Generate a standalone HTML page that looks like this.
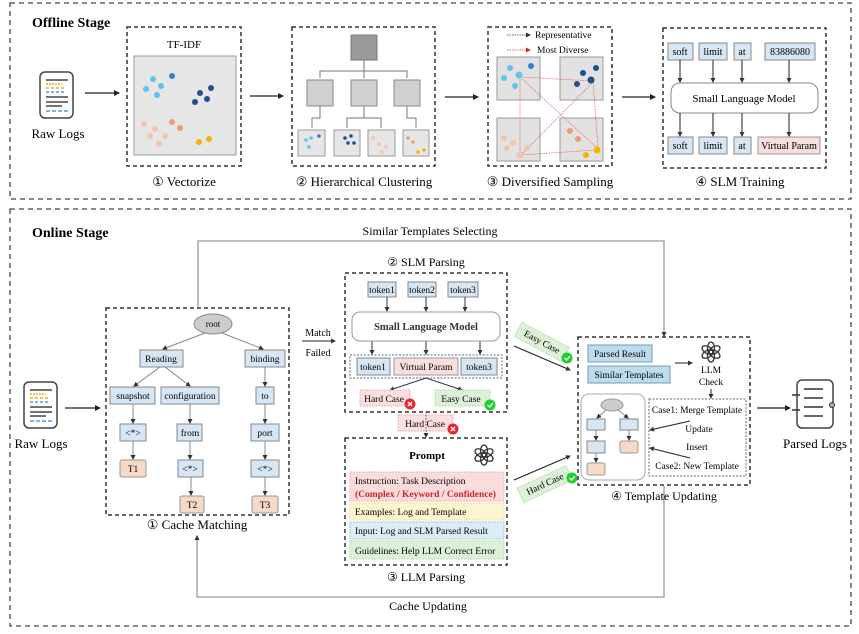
<!DOCTYPE html>
<html><head><meta charset="utf-8"><style>
html,body{margin:0;padding:0;background:#fff;}
svg{display:block;font-family:"Liberation Serif",serif;}
</style></head><body>
<svg width="859" height="634" viewBox="0 0 859 634" xmlns="http://www.w3.org/2000/svg">
<defs>
<marker id="ah" markerWidth="6" markerHeight="6" refX="5" refY="3" orient="auto" markerUnits="userSpaceOnUse"><path d="M0,0 L6,3 L0,6 z" fill="#222"/></marker>
<marker id="as" markerWidth="5" markerHeight="5" refX="4" refY="2.5" orient="auto" markerUnits="userSpaceOnUse"><path d="M0,0 L5,2.5 L0,5 z" fill="#333"/></marker>
<marker id="ar" markerWidth="5" markerHeight="5" refX="4" refY="2.5" orient="auto" markerUnits="userSpaceOnUse"><path d="M0,0 L5,2.5 L0,5 z" fill="#d22"/></marker>
<g id="doc">
<rect x="0" y="0" width="33" height="46" rx="5" fill="#fff" stroke="#444" stroke-width="1.5"/>
<line x1="6" y1="8" x2="28" y2="8" stroke="#444" stroke-width="1.5"/>
<line x1="6" y1="12" x2="22" y2="12" stroke="#f5a623" stroke-width="1.5" stroke-dasharray="2,1"/>
<line x1="6" y1="16" x2="26" y2="16" stroke="#f5a623" stroke-width="1.5" stroke-dasharray="3,2"/>
<line x1="6" y1="20" x2="24" y2="20" stroke="#4a9fe0" stroke-width="1.5" stroke-dasharray="3,2"/>
<line x1="6" y1="25" x2="28" y2="25" stroke="#444" stroke-width="1.5"/>
<line x1="6" y1="30" x2="28" y2="30" stroke="#444" stroke-width="1.5"/>
<line x1="6" y1="34" x2="22" y2="34" stroke="#444" stroke-width="1.5"/>
<line x1="6" y1="39" x2="28" y2="39" stroke="#4a9fe0" stroke-width="1.5" stroke-dasharray="4,2"/>
</g>
<g id="gpt" fill="none" stroke="#333" stroke-width="1.3">
<ellipse cx="0" cy="-4" rx="3.5" ry="6"/>
<ellipse cx="0" cy="-4" rx="3.5" ry="6" transform="rotate(60 0 0)"/>
<ellipse cx="0" cy="-4" rx="3.5" ry="6" transform="rotate(120 0 0)"/>
<ellipse cx="0" cy="-4" rx="3.5" ry="6" transform="rotate(180 0 0)"/>
<ellipse cx="0" cy="-4" rx="3.5" ry="6" transform="rotate(240 0 0)"/>
<ellipse cx="0" cy="-4" rx="3.5" ry="6" transform="rotate(300 0 0)"/>
</g>
<g id="xm"><circle r="5.5" fill="#e8282b"/><path d="M-2,-2 L2,2 M2,-2 L-2,2" stroke="#fff" stroke-width="1.4"/></g>
<g id="ck"><circle r="5.5" fill="#1ed02a"/><path d="M-2.5,0 L-0.5,2 L2.8,-1.8" stroke="#fff" stroke-width="1.4" fill="none"/></g>
</defs>

<!-- OFFLINE -->
<rect x="10" y="3" width="841" height="196" fill="none" stroke="#444" stroke-width="1.3" stroke-dasharray="5,4"/>
<text x="32" y="27" font-size="14" font-weight="bold">Offline Stage</text>
<use href="#doc" x="40" y="72"/>
<text x="58" y="138" font-size="13" text-anchor="middle">Raw Logs</text>
<line x1="85" y1="93" x2="119" y2="93" stroke="#222" stroke-width="1.2" marker-end="url(#ah)"/>

<rect x="127" y="27" width="114" height="139" fill="none" stroke="#333" stroke-width="1.5" stroke-dasharray="4,3"/>
<text x="184" y="48" font-size="11" text-anchor="middle">TF-IDF</text>
<rect x="134" y="56" width="102" height="99" fill="#e6e6e6" stroke="#999"/>
<g fill="#5ec4ef"><circle cx="153" cy="79" r="3"/><circle cx="146" cy="89" r="3"/><circle cx="161" cy="86" r="3"/><circle cx="157" cy="95" r="3"/></g>
<circle cx="172" cy="76" r="3" fill="#3a7cc8"/>
<g fill="#1e4f8e"><circle cx="200" cy="93" r="3"/><circle cx="211" cy="88" r="3"/><circle cx="195" cy="102" r="3"/><circle cx="207" cy="99" r="3"/></g>
<g fill="#f6c2aa"><circle cx="144" cy="124" r="3"/><circle cx="155" cy="129" r="3"/><circle cx="150" cy="136" r="3"/><circle cx="165" cy="136" r="3"/><circle cx="159" cy="144" r="3"/></g>
<g fill="#ec9e78"><circle cx="172" cy="122" r="3"/><circle cx="180" cy="128" r="3"/></g>
<g fill="#f5b400"><circle cx="199" cy="142" r="3"/><circle cx="209" cy="139" r="3"/></g>
<text x="184" y="186" font-size="13" text-anchor="middle">① Vectorize</text>
<line x1="250" y1="96" x2="283" y2="96" stroke="#222" stroke-width="1.2" marker-end="url(#ah)"/>

<rect x="292" y="27" width="143" height="139" fill="none" stroke="#333" stroke-width="1.5" stroke-dasharray="4,3"/>
<rect x="351" y="35" width="26" height="25" fill="#999" stroke="#777"/>
<g stroke="#777" fill="none" stroke-width="1"><path d="M364,60 V71 M320,78 V71 H407 V78 M364,71 V78"/>
<path d="M320,106 V118 H312 V128 M364,106 V118 M347,128 V118 H381 V128 M407,106 V118 H416 V128"/></g>
<g fill="#d0d0d0" stroke="#888"><rect x="307" y="80" width="26" height="26"/><rect x="351" y="80" width="26" height="26"/><rect x="394" y="80" width="26" height="26"/></g>
<g fill="#e6e6e6" stroke="#999"><rect x="298" y="130" width="27" height="26"/><rect x="334" y="130" width="26" height="26"/><rect x="368" y="130" width="27" height="26"/><rect x="403" y="130" width="26" height="26"/></g>
<g fill="#5ec4ef"><circle cx="306" cy="140" r="1.8"/><circle cx="311" cy="138" r="1.8"/><circle cx="309" cy="147" r="1.8"/></g><circle cx="319" cy="136" r="1.8" fill="#3a7cc8"/>
<g fill="#1e4f8e"><circle cx="345" cy="138" r="1.8"/><circle cx="351" cy="136" r="1.8"/><circle cx="348" cy="143" r="1.8"/><circle cx="354" cy="143" r="1.8"/></g>
<g fill="#f6c2aa"><circle cx="373" cy="138" r="1.8"/><circle cx="379" cy="144" r="1.8"/><circle cx="386" cy="147" r="1.8"/><circle cx="382" cy="152" r="1.8"/></g>
<g fill="#ec9e78"><circle cx="408" cy="138" r="1.8"/><circle cx="413" cy="142" r="1.8"/></g><g fill="#f5b400"><circle cx="418" cy="152" r="1.8"/><circle cx="424" cy="150" r="1.8"/></g>
<text x="364" y="186" font-size="13" text-anchor="middle">② Hierarchical Clustering</text>
<line x1="445" y1="97" x2="478" y2="97" stroke="#222" stroke-width="1.2" marker-end="url(#ah)"/>

<rect x="488" y="27" width="124" height="139" fill="none" stroke="#333" stroke-width="1.5" stroke-dasharray="4,3"/>
<line x1="507" y1="35" x2="530" y2="35" stroke="#666" stroke-dasharray="1.5,1" marker-end="url(#as)"/>
<text x="535" y="38" font-size="9.5">Representative</text>
<line x1="507" y1="50" x2="530" y2="50" stroke="#e07070" stroke-dasharray="1.5,1" marker-end="url(#ar)"/>
<text x="537" y="53" font-size="9.5">Most Diverse</text>
<g fill="#e2e2e2" stroke="#999"><rect x="497" y="57" width="43" height="43"/><rect x="560" y="57" width="43" height="43"/><rect x="497" y="118" width="43" height="43"/><rect x="560" y="118" width="43" height="43"/></g>
<g stroke="#e07070" stroke-width="0.8" stroke-dasharray="1.5,1" fill="none"><path d="M520,77 L593,81 M520,77 L520,155 M520,77 L597,148 M593,81 L598,148 M521,155 L596,150 M521,155 L592,83"/></g>
<g fill="#5ec4ef"><circle cx="510" cy="68" r="3"/><circle cx="504" cy="78" r="3"/><circle cx="519" cy="75" r="3.5"/><circle cx="515" cy="86" r="3"/></g><circle cx="531" cy="66" r="3" fill="#3a7cc8"/>
<g fill="#1e4f8e"><circle cx="583" cy="73" r="3"/><circle cx="596" cy="68" r="3"/><circle cx="577" cy="84" r="3"/><circle cx="591" cy="80" r="3.5"/></g>
<g fill="#f6c2aa"><circle cx="504" cy="138" r="3"/><circle cx="513" cy="143" r="3"/><circle cx="507" cy="148" r="3"/><circle cx="527" cy="148" r="3"/><circle cx="520" cy="155" r="3.5"/></g>
<g fill="#ec9e78"><circle cx="570" cy="131" r="3"/><circle cx="578" cy="139" r="3"/></g><g fill="#f5b400"><circle cx="586" cy="155" r="3"/><circle cx="597" cy="150" r="3.5"/></g>
<text x="550" y="186" font-size="13" text-anchor="middle">③ Diversified Sampling</text>
<line x1="622" y1="97" x2="655" y2="97" stroke="#222" stroke-width="1.2" marker-end="url(#ah)"/>

<rect x="663" y="28" width="163" height="140" fill="none" stroke="#333" stroke-width="1.5" stroke-dasharray="4,3"/>
<g fill="#d6e6f4" stroke="#888"><rect x="668" y="43" width="25" height="17"/><rect x="699" y="43" width="28" height="17"/><rect x="734" y="43" width="17" height="17"/><rect x="765" y="43" width="50" height="17"/>
<rect x="668" y="137" width="25" height="17"/><rect x="699" y="137" width="28" height="17"/><rect x="734" y="137" width="17" height="17"/></g>
<rect x="758" y="137" width="62" height="17" fill="#f9dede" stroke="#999"/>
<g font-size="10" text-anchor="middle"><text x="680" y="55">soft</text><text x="713" y="55">limit</text><text x="742" y="55">at</text><text x="790" y="55">83886080</text>
<text x="680" y="149">soft</text><text x="713" y="149">limit</text><text x="742" y="149">at</text><text x="789" y="149">Virtual Param</text></g>
<rect x="671" y="83" width="147" height="30" rx="9" fill="#fff" stroke="#888"/>
<text x="744" y="102" font-size="11" text-anchor="middle">Small Language Model</text>
<g stroke="#333" stroke-width="1.1"><line x1="680" y1="60" x2="680" y2="82" marker-end="url(#as)"/><line x1="713" y1="60" x2="713" y2="82" marker-end="url(#as)"/><line x1="742" y1="60" x2="742" y2="82" marker-end="url(#as)"/><line x1="789" y1="60" x2="789" y2="82" marker-end="url(#as)"/>
<line x1="680" y1="113" x2="680" y2="136" marker-end="url(#as)"/><line x1="713" y1="113" x2="713" y2="136" marker-end="url(#as)"/><line x1="742" y1="113" x2="742" y2="136" marker-end="url(#as)"/><line x1="789" y1="113" x2="789" y2="136" marker-end="url(#as)"/></g>
<text x="740" y="186" font-size="13" text-anchor="middle">④ SLM Training</text>

<!-- ONLINE -->
<rect x="10" y="209" width="841" height="417" fill="none" stroke="#444" stroke-width="1.3" stroke-dasharray="5,4"/>
<text x="32" y="237" font-size="14" font-weight="bold">Online Stage</text>
<text x="430" y="235" font-size="12" text-anchor="middle">Similar Templates Selecting</text>
<path d="M198,307 V241 H664 V336" fill="none" stroke="#999" stroke-width="1.3" marker-end="url(#as)"/>
<path d="M664,486 V597 H197 V536" fill="none" stroke="#999" stroke-width="1.3" marker-end="url(#as)"/>
<text x="428" y="610" font-size="12" text-anchor="middle">Cache Updating</text>

<use href="#doc" x="24" y="382"/>
<text x="41" y="448" font-size="13" text-anchor="middle">Raw Logs</text>
<line x1="65" y1="408" x2="100" y2="408" stroke="#222" stroke-width="1.2" marker-end="url(#ah)"/>

<rect x="106" y="308" width="183" height="207" fill="none" stroke="#333" stroke-width="1.5" stroke-dasharray="4,3"/>
<ellipse cx="213" cy="324" rx="19" ry="10" fill="#ccc" stroke="#888"/>
<text x="213" y="327" font-size="9" text-anchor="middle">root</text>
<g stroke="#888" stroke-width="1"><line x1="205" y1="333" x2="163" y2="349" marker-end="url(#as)"/><line x1="222" y1="333" x2="263" y2="349" marker-end="url(#as)"/>
<line x1="160" y1="367" x2="134" y2="386" marker-end="url(#as)"/><line x1="165" y1="367" x2="190" y2="386" marker-end="url(#as)"/><line x1="265" y1="367" x2="265" y2="386" marker-end="url(#as)"/>
<line x1="133" y1="404" x2="133" y2="423" marker-end="url(#as)"/><line x1="190" y1="404" x2="190" y2="423" marker-end="url(#as)"/><line x1="265" y1="404" x2="265" y2="423" marker-end="url(#as)"/>
<line x1="133" y1="441" x2="133" y2="459" marker-end="url(#as)"/><line x1="190" y1="441" x2="190" y2="459" marker-end="url(#as)"/><line x1="265" y1="441" x2="265" y2="459" marker-end="url(#as)"/>
<line x1="191" y1="477" x2="191" y2="495" marker-end="url(#as)"/><line x1="265" y1="477" x2="265" y2="495" marker-end="url(#as)"/></g>
<g fill="#d6e6f4" stroke="#888"><rect x="140" y="350" width="43" height="17"/><rect x="245" y="350" width="40" height="17"/>
<rect x="110" y="387" width="45" height="17"/><rect x="161" y="387" width="58" height="17"/><rect x="256" y="387" width="18" height="17"/>
<rect x="120" y="424" width="26" height="17"/><rect x="177" y="424" width="25" height="17"/><rect x="251" y="424" width="28" height="17"/>
<rect x="178" y="460" width="25" height="17"/><rect x="251" y="460" width="28" height="17"/></g>
<g fill="#f7d9c8" stroke="#999"><rect x="120" y="460" width="26" height="17" rx="2"/><rect x="180" y="496" width="24" height="17" rx="2"/><rect x="252" y="496" width="26" height="17" rx="2"/></g>
<g font-size="9.5" text-anchor="middle"><text x="161" y="362">Reading</text><text x="265" y="362">binding</text>
<text x="133" y="399">snapshot</text><text x="190" y="399">configuration</text><text x="265" y="399">to</text>
<text x="133" y="436">&lt;*&gt;</text><text x="190" y="436">from</text><text x="265" y="436">port</text>
<text x="133" y="472">T1</text><text x="190" y="472">&lt;*&gt;</text><text x="265" y="472">&lt;*&gt;</text>
<text x="192" y="508">T2</text><text x="265" y="508">T3</text></g>
<text x="197" y="529" font-size="13" text-anchor="middle">① Cache Matching</text>

<text x="318" y="336" font-size="10" text-anchor="middle">Match</text>
<line x1="302" y1="341" x2="335" y2="341" stroke="#222" stroke-width="1" marker-end="url(#as)"/>
<text x="318" y="356" font-size="10" text-anchor="middle">Failed</text>

<!-- SLM Parsing -->
<text x="426" y="266" font-size="12" text-anchor="middle">② SLM Parsing</text>
<rect x="345" y="273" width="162" height="139" fill="none" stroke="#333" stroke-width="1.5" stroke-dasharray="4,3"/>
<g fill="#d6e6f4" stroke="#888"><rect x="368" y="282" width="28" height="15"/><rect x="408" y="282" width="28" height="15"/><rect x="448" y="282" width="30" height="15"/></g>
<g font-size="9.5" text-anchor="middle"><text x="382" y="293">token1</text><text x="422" y="293">token2</text><text x="463" y="293">token3</text></g>
<g stroke="#333" stroke-width="1"><line x1="387" y1="297" x2="387" y2="311" marker-end="url(#as)"/><line x1="426" y1="297" x2="426" y2="311" marker-end="url(#as)"/><line x1="465" y1="297" x2="465" y2="311" marker-end="url(#as)"/>
<line x1="372" y1="341" x2="372" y2="354" marker-end="url(#as)"/><line x1="426" y1="341" x2="426" y2="354" marker-end="url(#as)"/><line x1="480" y1="341" x2="480" y2="354" marker-end="url(#as)"/></g>
<rect x="352" y="312" width="148" height="29" rx="8" fill="#fff" stroke="#999"/>
<text x="426" y="330" font-size="10.5" font-weight="bold" fill="#333" text-anchor="middle">Small Language Model</text>
<rect x="350" y="355" width="152" height="23" fill="none" stroke="#4d6f88" stroke-dasharray="2,1.5"/>
<rect x="357" y="358" width="33" height="17" fill="#d6e6f4" stroke="#888"/><rect x="394" y="358" width="64" height="17" fill="#f9dede" stroke="#999"/><rect x="461" y="358" width="36" height="17" fill="#d6e6f4" stroke="#888"/>
<g font-size="9.5" text-anchor="middle"><text x="373" y="370">token1</text><text x="426" y="370">Virtual Param</text><text x="479" y="370">token3</text></g>
<g stroke="#333" stroke-width="1"><line x1="426" y1="378" x2="390" y2="390" marker-end="url(#as)"/><line x1="426" y1="378" x2="462" y2="390" marker-end="url(#as)"/></g>
<rect x="360" y="390" width="50" height="16" fill="#fbe0e0" stroke="#f3b0b0" stroke-dasharray="2,1"/>
<text x="384" y="402" font-size="9.5" text-anchor="middle">Hard Case</text><use href="#xm" x="410" y="404"/>
<rect x="435" y="390" width="55" height="16" fill="#dcf1d8" stroke="#b5dfae" stroke-dasharray="2,1"/>
<text x="461" y="402" font-size="9.5" text-anchor="middle">Easy Case</text><use href="#ck" x="490" y="405"/>

<rect x="398" y="415" width="55" height="16" fill="#fbe0e0" stroke="#f3b0b0" stroke-dasharray="2,1"/>
<line x1="426" y1="412" x2="426" y2="437" stroke="#555" stroke-dasharray="1.5,1.5" marker-end="url(#as)"/>
<text x="425" y="427" font-size="9.5" text-anchor="middle">Hard Case</text><use href="#xm" x="453" y="429"/>

<!-- LLM Parsing -->
<rect x="345" y="438" width="162" height="127" fill="none" stroke="#333" stroke-width="1.5" stroke-dasharray="4,3"/>
<text x="427" y="459" font-size="11" font-weight="bold" text-anchor="middle">Prompt</text>
<use href="#gpt" x="484" y="455"/>
<rect x="350" y="472" width="154" height="29" fill="#fadcdc" stroke="#f3b0b0" stroke-dasharray="2,1"/>
<text x="355" y="484" font-size="9.5">Instruction: Task Description</text>
<text x="355" y="497" font-size="9.5" font-weight="bold" fill="#d3202a">(Complex / Keyword / Confidence)</text>
<rect x="350" y="503" width="154" height="17" fill="#fdf5cf" stroke="#f2e39a" stroke-dasharray="2,1"/>
<text x="355" y="515" font-size="9.5">Examples: Log and Template</text>
<rect x="350" y="522" width="154" height="17" fill="#dcedf8" stroke="#8fc9ea" stroke-dasharray="2,1"/>
<text x="355" y="534" font-size="9.5">Input: Log and SLM Parsed Result</text>
<rect x="350" y="541" width="154" height="18" fill="#dcf1d8" stroke="#b5dfae" stroke-dasharray="2,1"/>
<text x="355" y="554" font-size="9.5">Guidelines: Help LLM Correct Error</text>
<text x="426" y="581" font-size="12" text-anchor="middle">③ LLM Parsing</text>

<!-- Easy / Hard diagonal -->
<g transform="translate(542,342) rotate(28)"><rect x="-27" y="-8" width="54" height="16" fill="#dcf1d8" stroke="#b5dfae" stroke-dasharray="2,1"/><text x="0" y="3" font-size="9.5" text-anchor="middle">Easy Case</text></g>
<use href="#ck" x="567" y="358"/>
<line x1="514" y1="346" x2="570" y2="370" stroke="#222" stroke-width="1.1" marker-end="url(#as)"/>
<g transform="translate(545,484) rotate(-25)"><rect x="-27" y="-8" width="54" height="16" fill="#dcf1d8" stroke="#b5dfae" stroke-dasharray="2,1"/><text x="0" y="3" font-size="9.5" text-anchor="middle">Hard Case</text></g>
<use href="#ck" x="572" y="478"/>
<line x1="514" y1="480" x2="570" y2="456" stroke="#222" stroke-width="1.1" marker-end="url(#as)"/>

<!-- Template updating -->
<rect x="578" y="337" width="172" height="148" fill="none" stroke="#333" stroke-width="1.5" stroke-dasharray="4,3"/>
<rect x="588" y="345" width="64" height="17" fill="#bcdcef" stroke="#7a9ab0"/>
<text x="620" y="357" font-size="9.5" text-anchor="middle">Parsed Result</text>
<rect x="588" y="366" width="82" height="17" fill="#bcdcef" stroke="#7a9ab0"/>
<text x="629" y="378" font-size="9.5" text-anchor="middle">Similar Templates</text>
<line x1="675" y1="363" x2="692" y2="363" stroke="#222" stroke-width="1" marker-end="url(#as)"/>
<use href="#gpt" x="711" y="352"/>
<text x="711" y="373" font-size="9.5" text-anchor="middle">LLM</text>
<text x="711" y="385" font-size="9.5" text-anchor="middle">Check</text>
<line x1="711" y1="389" x2="711" y2="398" stroke="#222" stroke-width="1" marker-end="url(#as)"/>
<rect x="581" y="394" width="64" height="86" rx="8" fill="#fff" stroke="#aaa"/>
<ellipse cx="612" cy="405" rx="11" ry="6" fill="#ccc" stroke="#999"/>
<g stroke="#666" stroke-width="0.8"><line x1="606" y1="410" x2="597" y2="418" marker-end="url(#as)"/><line x1="618" y1="410" x2="628" y2="418" marker-end="url(#as)"/><line x1="596" y1="430" x2="596" y2="440" marker-end="url(#as)"/><line x1="629" y1="430" x2="629" y2="440" marker-end="url(#as)"/><line x1="596" y1="453" x2="596" y2="462" marker-end="url(#as)"/></g>
<g fill="#d6e6f4" stroke="#888"><rect x="587" y="419" width="18" height="11"/><rect x="620" y="419" width="18" height="11"/><rect x="587" y="441" width="18" height="12"/></g>
<g fill="#f7d9c8" stroke="#999"><rect x="620" y="441" width="18" height="12" rx="2"/><rect x="587" y="463" width="18" height="12" rx="2"/></g>
<rect x="649" y="399" width="97" height="77" fill="none" stroke="#4d6f88" stroke-dasharray="2,1.5"/>
<g font-size="9.5" text-anchor="middle"><text x="697" y="413">Case1: Merge Template</text><text x="699" y="432">Update</text><text x="697" y="450">Insert</text><text x="697" y="469">Case2: New Template</text></g>
<line x1="690" y1="421" x2="650" y2="430" stroke="#222" stroke-width="1" marker-end="url(#as)"/>
<line x1="690" y1="458" x2="650" y2="448" stroke="#222" stroke-width="1" marker-end="url(#as)"/>
<text x="664" y="500" font-size="12" text-anchor="middle">④ Template Updating</text>

<line x1="757" y1="408" x2="790" y2="408" stroke="#222" stroke-width="1.2" marker-end="url(#ah)"/>
<rect x="797" y="380" width="36" height="48" rx="5" fill="#fff" stroke="#444" stroke-width="1.5"/>
<g stroke="#333" stroke-width="1.5"><line x1="792" y1="395" x2="800" y2="395"/><line x1="792" y1="410" x2="800" y2="410"/><line x1="804" y1="389" x2="823" y2="389"/><line x1="804" y1="398" x2="823" y2="398"/><line x1="804" y1="407" x2="823" y2="407"/><line x1="804" y1="416" x2="823" y2="416"/></g>
<circle cx="832" cy="405" r="2.5" fill="#8fb4d8" stroke="#333"/>
<text x="815" y="448" font-size="13" text-anchor="middle">Parsed Logs</text>
</svg>
</body></html>
